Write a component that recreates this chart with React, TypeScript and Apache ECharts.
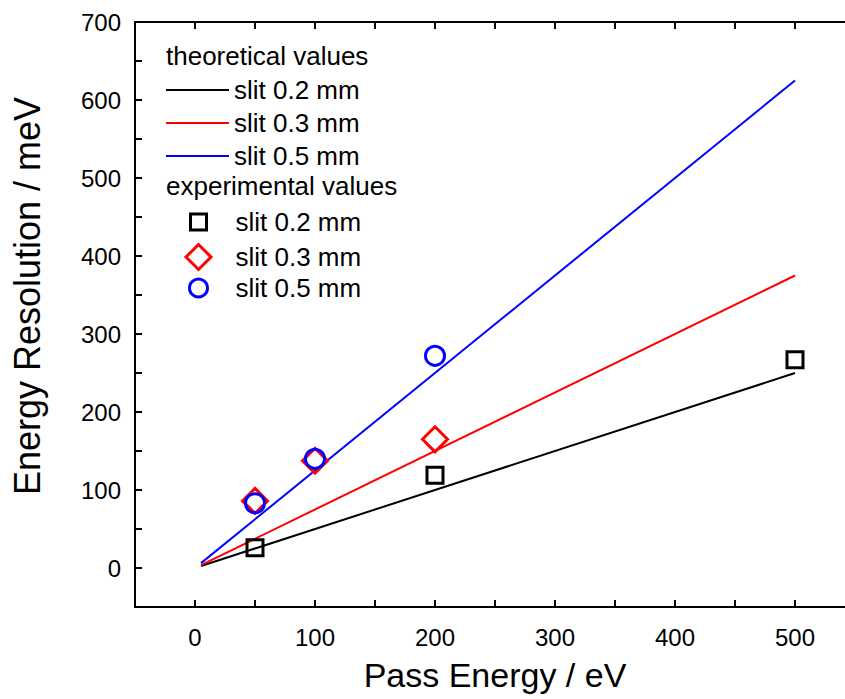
import React, { useEffect, useRef } from 'react';
import * as echarts from 'echarts';

const slitLabels = ['slit 0.2 mm', 'slit 0.3 mm', 'slit 0.5 mm'];
const slitColors = ['#000000', '#ff0000', '#0000ff'];

const theoryX = [5, 500];
const theory02 = [2.5, 250];
const theory03 = [3.75, 375];
const theory05 = [6.25, 625];

const exp02X = [50, 200, 500];
const exp02Y = [26, 119, 267];
const exp03X = [50, 100, 200];
const exp03Y = [86, 137.5, 165];
const exp05X = [50, 100, 200];
const exp05Y = [83, 140, 272];

// axis ranges and tick labels
const xRange = [-50, 550];
const yRange = [-50, 700];
const xTickLabels = [0, 100, 200, 300, 400, 500];
const yTickLabels = [0, 100, 200, 300, 400, 500, 600, 700];

const FONT = '"Liberation Sans", Arial, Helvetica, sans-serif';
const BLACK = '#000000';

const zip = (xs: number[], ys: number[]) => xs.map((x, i) => [x, ys[i]]);

// One axis per side, ticks every 50 (counted from min -50), labels only on the listed values.
function axisDef(position: string, range: number[], labels: number[] | null, margin: number) {
  return {
    type: 'value',
    position,
    min: range[0],
    max: range[1],
    interval: 50,
    axisLine: { show: true, onZero: false, lineStyle: { color: BLACK, width: 2 } },
    axisTick: { show: true, inside: true, length: 7, lineStyle: { color: BLACK, width: 2 } },
    axisLabel: labels
      ? {
          show: true,
          fontSize: 24,
          color: BLACK,
          margin,
          fontFamily: FONT,
          formatter: (v: number) => (labels.indexOf(v) >= 0 ? String(v) : ''),
        }
      : { show: false },
    splitLine: { show: false },
  };
}

const labelMap: Record<string, string> = {};

export default function App() {
  const ref = useRef<HTMLDivElement>(null);

  useEffect(() => {
    if (!ref.current) return;
    const chart = echarts.init(ref.current, undefined, { renderer: 'svg' });

    const theoryData = [theory02, theory03, theory05];
    const expX = [exp02X, exp03X, exp05X];
    const expY = [exp02Y, exp03Y, exp05Y];
    const symbols = ['rect', 'diamond', 'circle'];
    const symbolSizes = [16, 25, 19];
    const legendIconSizes = [16, 25, 18];
    const legendRowsTheory = [90, 123, 156];
    const legendRowsExp = [222, 256, 288];
    const iconCenterX = 197;
    const textX = 234;

    const series: any[] = [];
    const legends: any[] = [];

    theoryData.forEach((ys, i) => {
      const name = 'theory ' + slitLabels[i];
      labelMap[name] = slitLabels[i];
      series.push({
        type: 'line',
        name,
        data: zip(theoryX, ys),
        showSymbol: false,
        lineStyle: { color: slitColors[i], width: 2 },
        itemStyle: { color: slitColors[i] },
        z: 2,
      });
      legends.push({
        data: [{ name, icon: 'rect' }],
        left: 166,
        top: legendRowsTheory[i] - 13,
        padding: 0,
        itemWidth: 63,
        itemHeight: 2,
        itemStyle: { color: slitColors[i], borderWidth: 0 },
        formatter: (n: string) => labelMap[n] || n,
        textStyle: { fontSize: 26, color: BLACK, fontFamily: FONT, lineHeight: 26 },
      });
    });

    expX.forEach((xs, i) => {
      const name = 'experiment ' + slitLabels[i];
      labelMap[name] = slitLabels[i];
      series.push({
        type: 'scatter',
        name,
        data: zip(xs, expY[i]),
        symbol: symbols[i],
        symbolSize: symbolSizes[i],
        itemStyle: { color: 'rgba(255,255,255,0)', borderColor: slitColors[i], borderWidth: 3, opacity: 1 },
        z: 3,
      });
      const s = legendIconSizes[i];
      const left = iconCenterX - s / 2;
      legends.push({
        data: [name],
        left,
        top: legendRowsExp[i] - 13,
        padding: 0,
        itemWidth: s,
        itemHeight: s,
        itemStyle: { borderWidth: 3, borderColor: slitColors[i], color: 'rgba(255,255,255,0)', opacity: 1 },
        formatter: (n: string) => labelMap[n] || n,
        textStyle: {
          fontSize: 26,
          color: BLACK,
          fontFamily: FONT,
          lineHeight: 26,
          padding: [0, 0, 0, textX - (left + s + 5)],
        },
      });
    });

    chart.setOption({
      animation: false,
      grid: { left: 135, width: 720, top: 22, height: 585, outerBoundsMode: 'none' },
      xAxis: [axisDef('bottom', xRange, xTickLabels, 18), axisDef('top', xRange, null, 0)],
      yAxis: [axisDef('left', yRange, yTickLabels, 14), axisDef('right', yRange, null, 0)],
      legend: legends,
      graphic: [
        {
          type: 'text',
          left: 166,
          top: 58 - 15,
          style: { text: 'theoretical values', fontSize: 26, fontFamily: FONT, fill: BLACK },
        },
        {
          type: 'text',
          left: 166,
          top: 188 - 15,
          style: { text: 'experimental values', fontSize: 26, fontFamily: FONT, fill: BLACK },
        },
        {
          type: 'text',
          x: 495,
          y: 675,
          style: {
            text: 'Pass Energy / eV',
            fontSize: 34,
            fontFamily: FONT,
            fill: BLACK,
            align: 'center',
            verticalAlign: 'middle',
          },
        },
        {
          type: 'text',
          x: 27,
          y: 296,
          rotation: Math.PI / 2,
          style: {
            text: 'Energy Resolution / meV',
            fontSize: 36,
            fontFamily: FONT,
            fill: BLACK,
            align: 'center',
            verticalAlign: 'middle',
          },
        },
      ],
      series,
    });

    return () => chart.dispose();
  }, []);

  return (
    <div
      ref={ref}
      style={{ position: 'fixed', left: 0, top: 0, width: 845, height: 699, background: '#fff' }}
    />
  );
}
